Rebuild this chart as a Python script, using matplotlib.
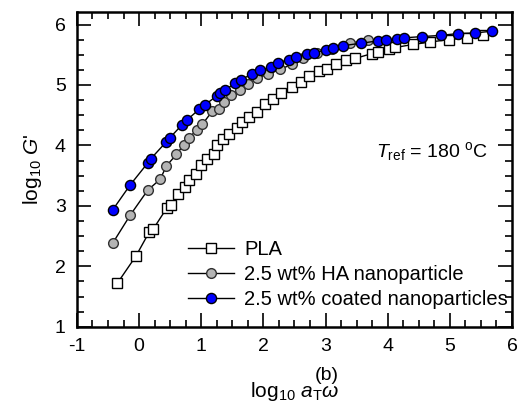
import numpy as np
import matplotlib
matplotlib.use("Agg")
import matplotlib.pyplot as plt

plt.rcParams["font.family"] = ["Liberation Sans", "DejaVu Sans"]
plt.rcParams["mathtext.fontset"] = "custom"
plt.rcParams["mathtext.rm"] = "Liberation Sans"
plt.rcParams["mathtext.it"] = "Liberation Sans:italic"
plt.rcParams["axes.unicode_minus"] = False

# log10 aT*w vs log10 G'
pla_x = [-0.35, -0.05, 0.16, 0.23, 0.45, 0.51, 0.62, 0.74, 0.80, 0.91, 1.00,
         1.09, 1.20, 1.25, 1.35, 1.45, 1.57, 1.65, 1.77, 1.89, 2.03, 2.16,
         2.29, 2.46, 2.60, 2.74, 2.89, 3.03, 3.17, 3.33, 3.48, 3.75, 3.84,
         4.02, 4.12, 4.41, 4.68, 4.98, 5.28, 5.54]
pla_y = [1.72, 2.17, 2.56, 2.62, 2.97, 3.02, 3.19, 3.32, 3.43, 3.53, 3.67,
         3.78, 3.86, 4.00, 4.10, 4.19, 4.28, 4.38, 4.47, 4.55, 4.68, 4.77,
         4.87, 4.96, 5.05, 5.14, 5.23, 5.27, 5.34, 5.41, 5.44, 5.52, 5.54,
         5.60, 5.62, 5.67, 5.71, 5.75, 5.78, 5.82]

ha_x = [-0.42, -0.14, 0.14, 0.34, 0.44, 0.60, 0.72, 0.80, 0.93, 1.02, 1.18,
        1.29, 1.36, 1.48, 1.62, 1.76, 1.90, 2.08, 2.27, 2.46, 2.64, 2.86,
        3.10, 3.40, 3.69]
ha_y = [2.39, 2.85, 3.26, 3.44, 3.66, 3.85, 4.01, 4.12, 4.26, 4.35, 4.57,
        4.61, 4.71, 4.83, 4.91, 5.01, 5.11, 5.18, 5.26, 5.34, 5.44, 5.53,
        5.59, 5.69, 5.75]

coat_x = [-0.42, -0.14, 0.14, 0.19, 0.43, 0.49, 0.69, 0.77, 0.97, 1.06, 1.25,
          1.30, 1.38, 1.54, 1.64, 1.82, 1.95, 2.12, 2.24, 2.42, 2.53, 2.70,
          2.82, 3.00, 3.12, 3.28, 3.57, 3.85, 3.98, 4.15, 4.27, 4.55, 4.85,
          5.13, 5.41, 5.68]
coat_y = [2.94, 3.35, 3.71, 3.78, 4.05, 4.12, 4.34, 4.42, 4.60, 4.67, 4.82,
          4.87, 4.91, 5.03, 5.09, 5.18, 5.24, 5.30, 5.37, 5.42, 5.47, 5.51,
          5.53, 5.58, 5.61, 5.65, 5.69, 5.73, 5.74, 5.76, 5.78, 5.80, 5.82,
          5.85, 5.86, 5.89]

fig = plt.figure(figsize=(5.23, 4.07), dpi=100)
ax = fig.add_axes([0.147, 0.197, 0.832, 0.774])

ax.plot(pla_x, pla_y, "-s", color="black", lw=1.0, ms=6.5, mfc="white",
        mec="black", mew=1.0, label="PLA")
ax.plot(ha_x, ha_y, "-o", color="black", lw=1.0, ms=7, mfc="#b4b4b4",
        mec="#303030", mew=1.0, label="2.5 wt% HA nanoparticle")
ax.plot(coat_x, coat_y, "-o", color="black", lw=1.0, ms=7.3, mfc="#0000ff",
        mec="black", mew=1.0, label="2.5 wt% coated nanoparticles")

ax.set_xlim(-1, 6)
ax.set_ylim(1, 6.21)
ax.set_xticks(np.arange(-1, 7, 1))
ax.set_yticks(np.arange(1, 7, 1))
ax.set_xticks(np.arange(-1, 6.01, 0.25), minor=True)
ax.set_yticks(np.arange(1, 6.21, 0.25), minor=True)
ax.tick_params(which="both", direction="in", top=True, right=True,
               labelsize=14, width=1.2)
ax.tick_params(which="major", length=10, pad=8)
ax.tick_params(which="minor", length=5)
for s in ax.spines.values():
    s.set_linewidth(1.8)

ax.set_ylabel(r"log$_{10}$ $G$'", fontsize=15, labelpad=8)
ax.set_xlabel(r"log$_{10}$ $a_{\rm T}\omega$", fontsize=15, labelpad=18)
ax.text(0.574, -0.155, "(b)", transform=ax.transAxes, fontsize=14,
        ha="center", va="center")

ax.text(0.688, 0.555, r"$T_{\rm ref}$ = 180 $^{\rm o}$C", transform=ax.transAxes,
        fontsize=14, ha="left", va="center")

ax.legend(loc="upper left", bbox_to_anchor=(0.255, 0.275), frameon=False,
          fontsize=14.5, handlelength=2.3, handletextpad=0.5, labelspacing=0.3,
          borderaxespad=0, borderpad=0)

fig.savefig("out.png", dpi=100)
